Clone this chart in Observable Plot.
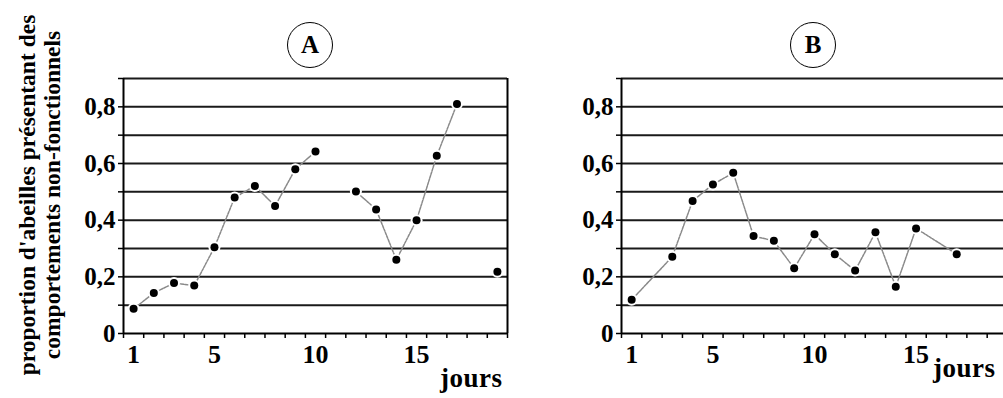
<!DOCTYPE html>
<html><head><meta charset="utf-8">
<script src="https://cdn.jsdelivr.net/npm/d3@7"></script>
<script src="https://cdn.jsdelivr.net/npm/@observablehq/plot@0.6"></script>
<style>
html,body{margin:0;padding:0;background:#fff;overflow:hidden}
#wrap{position:relative;width:1003px;height:398px;overflow:hidden;background:#fff;font-family:"Liberation Serif","Times New Roman",serif;font-weight:bold;color:#000}
.panel{position:absolute;top:0}
.panel svg{max-width:none !important;display:block;font-family:"Liberation Serif",serif !important;font-weight:bold}
.panel svg text{font-family:"Liberation Serif",serif !important;font-weight:bold !important}
.ylab{position:absolute;left:-155px;top:170px;width:390px;height:50px;transform:rotate(-90deg);text-align:center;font-size:23.5px;line-height:25px;white-space:nowrap}
.circ{position:absolute;box-sizing:border-box;width:46px;height:46px;border:1.5px solid #000;border-radius:50%;text-align:center;line-height:43px;font-size:25px}
.jours{position:absolute;font-size:27px;line-height:27px;letter-spacing:0.5px}
</style>
</head><body>
<div id="wrap">
  <div class="panel" id="pA" style="left:0;width:540px"></div>
  <div class="panel" id="pB" style="left:540px;width:500px"></div>
  <div class="ylab">proportion d'abeilles présentant des<br>comportements non-fonctionnels</div>
  <div class="circ" style="left:287px;top:22px">A</div>
  <div class="circ" style="left:790px;top:22px">B</div>
  <div class="jours" style="left:440px;top:365px">jours</div>
  <div class="jours" style="left:933px;top:355px">jours</div>
</div>
<script>
// Data
const daysA = [1,2,3,4,5,6,7,8,9,10,11,12,13,14,15,16,17,18,19];
const valuesA = [0.087,0.143,0.178,0.169,0.304,0.48,0.521,0.45,0.58,0.642,null,0.501,0.438,0.26,0.40,0.627,0.81,null,0.218];
const daysB = [1,3,4,5,6,7,8,9,10,11,12,13,14,15,17];
const valuesB = [0.119,0.271,0.468,0.526,0.567,0.344,0.327,0.23,0.35,0.28,0.222,0.357,0.165,0.371,0.28];
const gridValues = [0.1,0.2,0.3,0.4,0.5,0.6,0.7,0.8,0.9];
const yTicks = [0,0.1,0.2,0.3,0.4,0.5,0.6,0.7,0.8,0.9];
const yTickLabels = ["0","","0,2","","0,4","","0,6","","0,8",""];
const xLabelTicks = [1,5,10,15];
const xBoundaries = d3.range(0.5, 19.6, 1);

const serif = "Liberation Serif";

function panel(days, values, width, marginLeft, marginRight) {
  const data = days.map((d, i) => ({day: d, v: values[i]}));
  const pts = data.filter(d => d.v != null);
  return Plot.plot({
    width, height: 398,
    marginLeft, marginRight, marginTop: 78, marginBottom: 65,
    style: {fontFamily: serif, fontWeight: "bold", color: "#000", background: "white", maxWidth: "none"},
    x: {type: "linear", domain: [0.5, 19.5]},
    y: {domain: [0, 0.9]},
    marks: [
      Plot.ruleY(gridValues, {stroke: "#1a1a1a", strokeWidth: 2}),
      Plot.ruleY([0], {stroke: "#000", strokeWidth: 2}),
      Plot.ruleX([0.5, 19.5], {stroke: "#000", strokeWidth: 2}),
      Plot.axisY({ticks: yTicks, tickSize: 5, tickPadding: 3, strokeWidth: 1.5,
        tickFormat: d => yTickLabels[Math.round(d * 10)], fontSize: 25, fontFamily: serif, fontWeight: "bold", label: null}),
      Plot.axisX({ticks: xBoundaries, tickSize: 5, strokeWidth: 1.5, tickFormat: () => "", label: null}),
      Plot.axisX({ticks: xLabelTicks, tickSize: 0, tickPadding: 11, fontSize: 26, fontFamily: serif, fontWeight: "bold", label: null}),
      Plot.line(data, {x: "day", y: "v", stroke: "#8a8a8a", strokeWidth: 1.5, strokeDasharray: "2.5,1.2"}),
      Plot.dot(pts, {x: "day", y: "v", r: 6, fill: "white"}),
      Plot.dot(pts, {x: "day", y: "v", r: 4, fill: "#000"})
    ]
  });
}

document.getElementById("pA").append(panel(daysA, valuesA, 540, 123, 33));
document.getElementById("pB").append(panel(daysB, valuesB, 500, 81, 33));
</script>
</body></html>
